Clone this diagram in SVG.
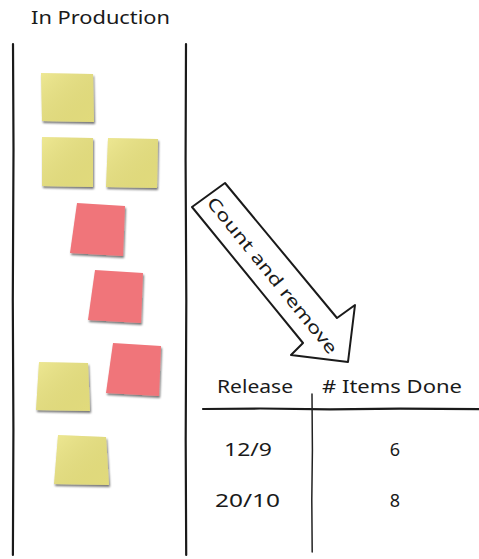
<svg xmlns="http://www.w3.org/2000/svg" width="479" height="559" viewBox="0 0 479 559">
  <style>
    .hand { font-family: "Noto Sans", "DejaVu Sans", sans-serif; fill: #1a1a1a; }
    .rule { fill: none; stroke: #1a1a1a; stroke-width: 2.2; stroke-linecap: round; stroke-linejoin: round; }
    .thin { fill: none; stroke: #222; stroke-width: 1.5; stroke-linecap: round; stroke-linejoin: round; }
    .yellow { fill: #ebe480; }
    .red { fill: #f0757a; }
  </style>
  <defs>
    <filter id="noteShadow" x="-20%" y="-20%" width="140%" height="140%">
      <feGaussianBlur in="SourceAlpha" stdDeviation="1"/>
      <feOffset dx="0.5" dy="1.5" result="b"/>
      <feComponentTransfer><feFuncA type="linear" slope="0.55"/></feComponentTransfer>
      <feMerge><feMergeNode/><feMergeNode in="SourceGraphic"/></feMerge>
    </filter>
    <linearGradient id="sheen" x1="0" y1="0" x2="1" y2="1">
      <stop offset="0" stop-color="#fff" stop-opacity="0.15"/>
      <stop offset="1" stop-color="#000" stop-opacity="0.04"/>
    </linearGradient>
  </defs>

  <!-- column heading -->
  <text class="hand" x="31" y="24" font-size="18" textLength="139" lengthAdjust="spacingAndGlyphs">In Production</text>

  <!-- column borders -->
  <g id="column">
    <path class="rule" d="M13 44 L13.5 150 L12.8 300 L13.4 430 L12.9 555"/>
    <path class="rule" d="M186 44 L185.6 160 L186.3 300 L185.7 440 L186.2 555"/>
  </g>

  <!-- sticky notes -->
  <g id="notes" filter="url(#noteShadow)">
    <g id="note-y1"><path class="yellow" d="M41 73 L93 74 L94 122 L42 121 Z"/><path fill="url(#sheen)" d="M41 73 L93 74 L94 122 L42 121 Z"/></g>
    <g id="note-y2"><path class="yellow" d="M42 137 L93 138 L93 187 L42 186 Z"/><path fill="url(#sheen)" d="M42 137 L93 138 L93 187 L42 186 Z"/></g>
    <g id="note-y3"><path class="yellow" d="M108 138 L158 139 L157 188 L106 187 Z"/><path fill="url(#sheen)" d="M108 138 L158 139 L157 188 L106 187 Z"/></g>
    <g id="note-r1"><path class="red" d="M77 203 L125 206 L123 256 L70 253 Z"/></g>
    <g id="note-r2"><path class="red" d="M95 270 L143 273 L141 323 L88 320 Z"/></g>
    <g id="note-r3"><path class="red" d="M113 343 L161 346 L159 396 L106 393 Z"/></g>
    <g id="note-y4"><path class="yellow" d="M39 362 L88 363 L90 411 L36 410 Z"/><path fill="url(#sheen)" d="M39 362 L88 363 L90 411 L36 410 Z"/></g>
    <g id="note-y5"><path class="yellow" d="M58 435 L106 437 L109 485 L54 484 Z"/><path fill="url(#sheen)" d="M58 435 L106 437 L109 485 L54 484 Z"/></g>
  </g>

  <!-- hand-drawn arrow with label -->
  <g id="arrow">
    <path d="M192 207 L225 183 L337 318 L355 305 L348 362 L291 355 L303 343 Z" fill="#fff" stroke="#1a1a1a" stroke-width="2" stroke-linejoin="round"/>
    <text class="hand" font-size="17" textLength="196" lengthAdjust="spacingAndGlyphs" transform="translate(206 203) rotate(51)">Count and remove</text>
  </g>

  <!-- release table -->
  <g id="table">
    <g id="grid">
      <path class="rule" d="M203 409 L260 408.5 L330 409.3 L400 408.6 L479 409.2"/>
      <path class="thin" d="M312 394 L312.4 450 L311.8 500 L312.2 552"/>
    </g>
    <text class="hand" x="217" y="393" font-size="18" textLength="76" lengthAdjust="spacingAndGlyphs">Release</text>
    <text class="hand" x="322" y="393" font-size="18" textLength="140" lengthAdjust="spacingAndGlyphs"># Items Done</text>
    <text class="hand" x="224" y="456" font-size="18" textLength="48" lengthAdjust="spacingAndGlyphs">12/9</text>
    <text class="hand" x="395" y="456" font-size="18" text-anchor="middle">6</text>
    <text class="hand" x="215" y="507" font-size="18" textLength="65" lengthAdjust="spacingAndGlyphs">20/10</text>
    <text class="hand" x="395" y="507" font-size="18" text-anchor="middle">8</text>
  </g>
</svg>
